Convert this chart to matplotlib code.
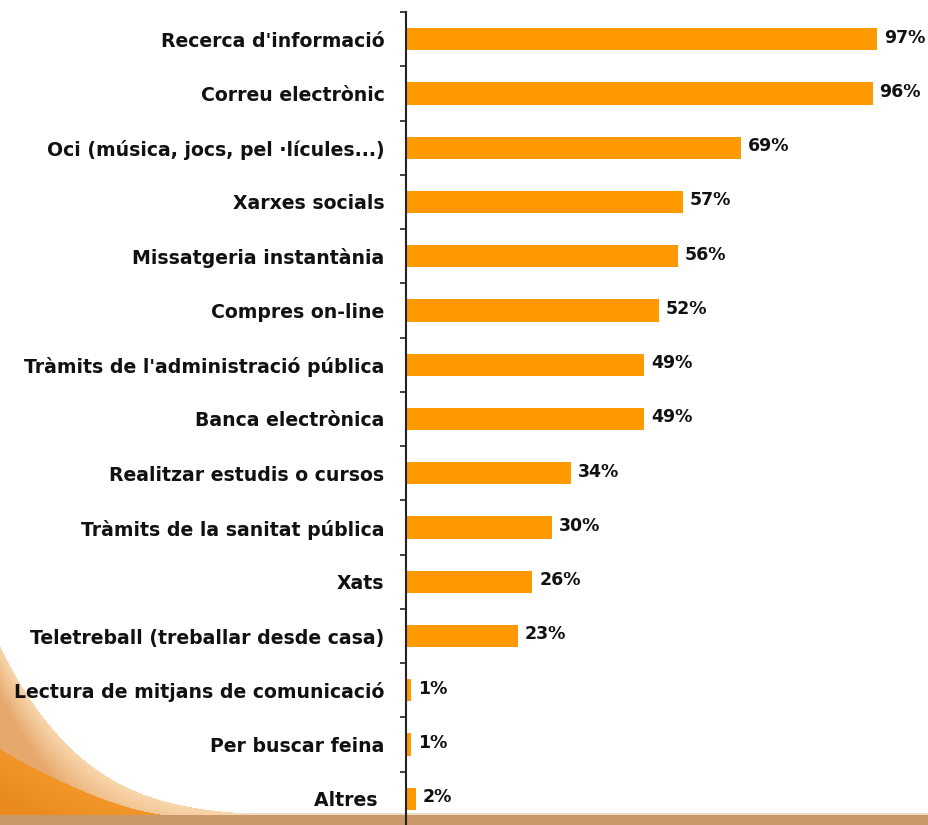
import matplotlib

matplotlib.use("Agg")
import matplotlib.pyplot as plt
import matplotlib.transforms as mtransforms
import numpy as np

categories = [
    "Recerca d'informació",
    "Correu electrònic",
    "Oci (música, jocs, pel ·lícules...)",
    "Xarxes socials",
    "Missatgeria instantània",
    "Compres on-line",
    "Tràmits de l'administració pública",
    "Banca electrònica",
    "Realitzar estudis o cursos",
    "Tràmits de la sanitat pública",
    "Xats",
    "Teletreball (treballar desde casa)",
    "Lectura de mitjans de comunicació",
    "Per buscar feina",
    "Altres ",
]
values = [97, 96, 69, 57, 56, 52, 49, 49, 34, 30, 26, 23, 1, 1, 2]

W, H = 929, 825
BAR_COLOR = "#FF9900"
TEXT_COLOR = "#111111"


def rgb(hex_color: str) -> np.ndarray:
    h = hex_color.lstrip("#")
    return np.array([int(h[i:i + 2], 16) for i in (0, 2, 4)]) / 255.0


def background_image(width: int, height: int) -> np.ndarray:
    # white slide with an orange swoosh in the lower-left corner
    yy, xx = np.mgrid[0:height, 0:width].astype(float)
    img = np.ones((height, width, 3))
    strip_top = 815.0
    edge = strip_top - 168.0 * np.clip(1 - xx / 420.0, 0, 1) ** 5.0
    inner = np.where(xx < 170, strip_top - 66.0 * np.clip(1 - xx / 170.0, 0, 1) ** 1.5, strip_top + 60)

    light = rgb("#F9D6AC")
    mid = rgb("#E6A86C")
    deep = rgb("#F2962A")
    deep2 = rgb("#EA8A1C")

    in_swoosh = yy >= edge
    depth = np.clip((yy - edge) / 50.0, 0, 1)[..., None]
    band = light * (1 - depth) + mid * depth
    img[in_swoosh] = band[in_swoosh]

    in_deep = yy >= inner
    s = np.clip((yy - inner) / 50.0, 0, 1)[..., None]
    core = deep * (1 - s) + deep2 * s
    img[in_deep] = core[in_deep]

    strip = yy >= strip_top
    img[strip] = rgb("#C9996B")
    line = (yy >= strip_top - 2) & (yy < strip_top) & (yy < edge + 1)
    img[line] = rgb("#ECDCC6")
    return img


fig = plt.figure(figsize=(W / 100, H / 100), dpi=100)

bg = fig.add_axes([0, 0, 1, 1], zorder=0)
bg.imshow(background_image(W, H), aspect="auto", interpolation="bilinear")
bg.set_axis_off()

ax = fig.add_axes([406 / W, -1 / H, 523 / W, 814 / H], zorder=1)
ax.patch.set_alpha(0)

y = np.arange(len(categories))
ax.barh(y, values, height=0.41, color=BAR_COLOR, zorder=2)
for yi, v in zip(y, values):
    ax.text(v + 1.4, yi - 0.03, f"{v}%", va="center", ha="left", fontsize=12.5,
            fontweight="bold", color=TEXT_COLOR)

ax.set_ylim(len(categories) - 0.5, -0.5)
ax.set_xlim(0, 107.6)
ax.set_yticks(y)
ax.set_yticklabels(categories, fontsize=13.6, fontweight="bold", color=TEXT_COLOR)
shift_up = mtransforms.ScaledTranslation(0, 2 / 100, fig.dpi_scale_trans)
for lbl in ax.get_yticklabels():
    lbl.set_transform(lbl.get_transform() + shift_up)
ax.set_yticks(np.arange(-0.5, len(categories)), minor=True)
ax.tick_params(axis="y", which="major", length=0, pad=15.5)
ax.tick_params(axis="y", which="minor", length=4.5, width=1.2, color="#222222")
ax.set_xticks([])
for side in ("top", "right", "bottom"):
    ax.spines[side].set_visible(False)
ax.spines["left"].set_linewidth(1.5)
ax.spines["left"].set_color("#222222")

fig.savefig("out.png", dpi=100)
